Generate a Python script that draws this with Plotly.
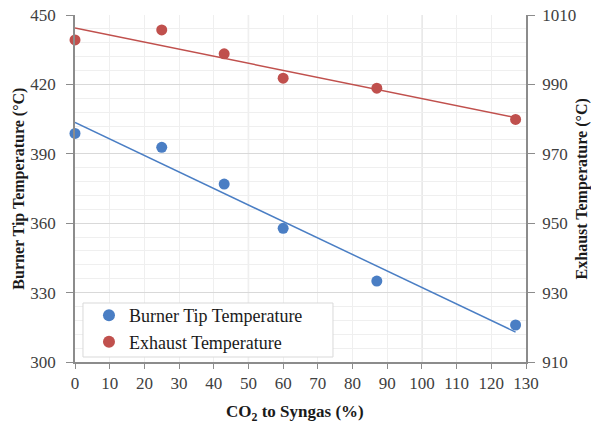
import numpy as np
import plotly.graph_objects as go

co2_pct = [0, 25, 43, 60, 87, 127]
burner_tip = [398.8, 392.8, 376.9, 357.8, 335.0, 316.0]
exhaust = [1002.8, 1005.7, 998.8, 991.8, 988.9, 979.9]

x_ticks = list(range(0, 131, 10))
left_ticks = [300, 330, 360, 390, 420, 450]
right_ticks = [910, 930, 950, 970, 990, 1010]

BLUE = "#4A7EC4"
RED = "#C0504D"
FONT = "Liberation Serif, Times New Roman, serif"
TXT = "#404040"
TITLE = "#1a1a1a"
AXIS = "#8C8C8C"

def trend(x, y):
    m, b = np.polyfit(x, y, 1)
    xs = np.array([min(x), max(x)])
    return xs, m * xs + b

fig = go.Figure()

bx, by = trend(co2_pct, burner_tip)
ex, ey = trend(co2_pct, exhaust)

fig.add_trace(go.Scatter(x=bx, y=by, mode="lines", line=dict(color=BLUE, width=1.5),
                         showlegend=False, hoverinfo="skip"))
fig.add_trace(go.Scatter(x=ex, y=ey, mode="lines", line=dict(color=RED, width=1.5),
                         showlegend=False, hoverinfo="skip", yaxis="y2"))
fig.add_trace(go.Scatter(x=co2_pct, y=burner_tip, mode="markers", name="Burner Tip Temperature",
                         marker=dict(color=BLUE, size=11), cliponaxis=False))
fig.add_trace(go.Scatter(x=co2_pct, y=exhaust, mode="markers", name="Exhaust Temperature",
                         marker=dict(color=RED, size=11), yaxis="y2", cliponaxis=False))

for xv in [50, 100]:
    fig.add_shape(type="line", x0=xv, x1=xv, y0=0, y1=1, xref="x", yref="paper",
                  line=dict(color="#D9D9D9", width=1.3), layer="below")

# legend frame
fig.add_shape(type="rect", xref="paper", yref="paper", x0=0.0177, x1=0.572, y0=0.0144, y1=0.170,
              line=dict(color="#D9D9D9", width=1), fillcolor="white", layer="above")

tickfont = dict(family=FONT, size=17, color=TXT)

fig.update_layout(
    width=591, height=429,
    margin=dict(l=75, r=65, t=15, b=67),
    paper_bgcolor="white", plot_bgcolor="white",
    font=dict(family=FONT, color=TXT, size=17),
    xaxis=dict(
        range=[0, 130], tickvals=x_ticks, ticktext=[str(v) for v in x_ticks],
        showgrid=True, gridcolor="#EFEFEF", gridwidth=1,
        showline=True, linecolor=AXIS, linewidth=1.5,
        ticks="outside", ticklen=5, tickcolor=AXIS, ticklabelstandoff=0,
        tickfont=tickfont, zeroline=False, automargin=False,
    ),
    yaxis=dict(
        range=[300, 450], tickvals=left_ticks,
        showgrid=True, gridcolor="#D9D9D9", gridwidth=1.3,
        minor=dict(dtick=6, showgrid=True, gridcolor="#EFEFEF", gridwidth=1, ticks=""),
        showline=True, linecolor=AXIS, linewidth=1.5,
        ticks="outside", ticklen=7, tickcolor=AXIS, ticklabelstandoff=7,
        tickfont=tickfont, zeroline=False, automargin=False,
    ),
    yaxis2=dict(
        range=[910, 1010], tickvals=right_ticks, overlaying="y", side="right",
        showgrid=False,
        showline=True, linecolor=AXIS, linewidth=1.5,
        ticks="outside", ticklen=7, tickcolor=AXIS, ticklabelstandoff=4,
        tickfont=tickfont, zeroline=False, automargin=False,
    ),
    legend=dict(
        x=0.031, y=0.187, xanchor="left", yanchor="top",
        bgcolor="rgba(0,0,0,0)", borderwidth=0,
        font=dict(family=FONT, size=18, color=TITLE),
        itemsizing="constant", tracegroupgap=0,
    ),
    showlegend=True,
    annotations=[
        dict(text="<b>CO<sub>2</sub> to Syngas (%)</b>", xref="paper", yref="paper",
             x=0.487, y=-0.147, xanchor="center", yanchor="middle", showarrow=False,
             font=dict(family=FONT, size=17, color=TITLE)),
        dict(text="<b>Burner Tip Temperature (°C)</b>", xref="paper", yref="paper",
             x=-0.126, y=0.5, xanchor="center", yanchor="middle", showarrow=False, textangle=-90,
             font=dict(family=FONT, size=16, color=TITLE)),
        dict(text="<b>Exhaust Temperature (°C)</b>", xref="paper", yref="paper",
             x=1.124, y=0.5, xanchor="center", yanchor="middle", showarrow=False, textangle=-90,
             font=dict(family=FONT, size=16, color=TITLE)),
    ],
)

fig.write_html("out.html", config={"displayModeBar": False},
               post_script="document.body.style.margin='0px';document.body.style.overflow='hidden';")
